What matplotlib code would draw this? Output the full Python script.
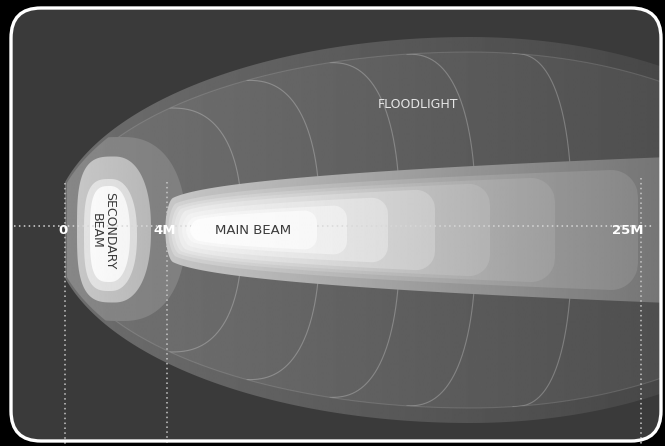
import numpy as np
import matplotlib.pyplot as plt
from matplotlib.patches import Polygon, FancyBboxPatch

W, H = 665, 446
YC = 230

# distance markers along the beam axis
marker_labels = ['0', '4M', '25M']
marker_x = [65, 167, 641]
marker_top = [183, 182, 178]

# main beam layers (outer -> core)
main_x0 = [165, 168, 171, 174, 178, 182, 186, 190]
main_x1 = [720, 638, 555, 490, 435, 388, 347, 317]
main_h = [75, 61, 53, 47, 41, 33, 25, 20]
main_rc = [30, 28, 25, 22, 20, 17, 14, 13]
main_g0 = [0.78, 0.83, 0.87, 0.90, 0.93, 0.95, 0.97, 0.99]
main_g1 = [0.46, 0.53, 0.62, 0.70, 0.79, 0.87, 0.93, 0.97]

# secondary beam layers (outer -> core)
sec_x0 = [60, 77, 84, 90]
sec_x1 = [186, 151, 137, 130]
sec_yc = [229, 229.5, 235, 234]
sec_h = [92, 73, 56, 48]
sec_g0 = [0.53, 0.78, 0.89, 0.98]
sec_g1 = [0.50, 0.72, 0.86, 0.96]

# floodlight distance arcs
arc_x0 = [170, 247, 330, 407, 513]
arc_x1 = [242, 320, 400, 476, 572]


def flood_half(xs, b, al, ar, xc=470):
    a = np.where(xs < xc, al, ar)
    return b * np.sqrt(np.clip(1 - ((xs - xc) / a) ** 2, 0, 1))


def beam_half(xs, x0, x1, h, rc, tip=0.3, p=0.4, rl=8):
    s = np.clip((xs - x0) / (x1 - x0), 0, 1)
    hh = h * (tip + (1 - tip) * s ** p)
    nose = np.clip((x0 + rl - xs) / rl, 0, 1)
    hh = hh * np.sqrt(1 - nose ** 2)
    t = np.clip((xs - (x1 - rc)) / rc, 0, 1)
    return hh - rc + rc * np.sqrt(1 - t ** 2)


def outline(xs, hh, yc):
    return np.concatenate([np.column_stack([xs, yc - hh]),
                           np.column_stack([xs[::-1], (yc + hh)[::-1]])])


def blob(x0, x1, yc, h, nl=3.2, nr=2.3):
    xc, a = (x0 + x1) / 2, (x1 - x0) / 2
    th = np.linspace(0, 2 * np.pi, 400)
    c, s = np.cos(th), np.sin(th)
    n = np.where(c < 0, nl, nr)
    x = xc + a * np.sign(c) * np.abs(c) ** (2 / n)
    y = yc + h * np.sign(s) * np.abs(s) ** (2 / n)
    # keep it inside the floodlight outline
    x = np.maximum(x, 67)
    hf = flood_half(x, 193, 418, 360) - 4
    y = np.clip(y, YC - hf, YC + hf)
    return np.column_stack([x, y])


def grad_fill(ax, pts, g0, g1, x0, x1, z):
    poly = Polygon(pts, closed=True, fc='none', ec='none', zorder=z)
    ax.add_patch(poly)
    img = np.linspace(g0, g1, 256)[None, :]
    im = ax.imshow(img, cmap='gray', vmin=0, vmax=1, extent=[x0, x1, H, 0],
                   aspect='auto', interpolation='bilinear', zorder=z)
    im.set_clip_path(poly)
    return poly


fig = plt.figure(figsize=(6.65, 4.46), dpi=100, facecolor='black')
ax = fig.add_axes([0, 0, 1, 1])
ax.set_facecolor('black')
ax.axis('off')

panel = FancyBboxPatch((11, 8), 650, 433, boxstyle='round,pad=0,rounding_size=30',
                       fc='#3a3a3a', ec='none', zorder=0)
ax.add_patch(panel)

# floodlight
xs = np.linspace(65, 660, 500)
outer = outline(xs, flood_half(xs, 193, 418, 360), YC)
grad_fill(ax, outer, 0.43, 0.28, 65, 660, 1)
xs_in = np.linspace(67, 660, 500)
hin = flood_half(xs_in, 178, 412, 345)
inner = outline(xs_in, hin, YC)
inner_poly = grad_fill(ax, inner, 0.45, 0.31, 65, 660, 2)
ax.plot(xs_in, YC - hin, color='white', alpha=0.13, lw=0.8, zorder=3)
ax.plot(xs_in, YC + hin, color='white', alpha=0.13, lw=0.8, zorder=3)

for x0, x1 in zip(arc_x0, arc_x1):
    b = flood_half(np.array([x0]), 178, 412, 345)[0]
    th = np.linspace(-np.pi / 2, np.pi / 2, 300)
    c, s = np.cos(th), np.sin(th)
    ax_ = x0 + (x1 - x0) * np.abs(c) ** 0.8
    ay_ = YC + b * np.sign(s) * np.abs(s) ** 0.8
    ln, = ax.plot(ax_, ay_, color='white', alpha=0.25, lw=0.8, zorder=3)
    ln.set_clip_path(inner_poly)

# secondary beam
for i in range(len(sec_x0)):
    pts = blob(sec_x0[i], sec_x1[i], sec_yc[i], sec_h[i])
    grad_fill(ax, pts, sec_g0[i], sec_g1[i], sec_x0[i], sec_x1[i], 4 + i)

# main beam
for i in range(len(main_x0)):
    xm = np.linspace(main_x0[i], min(main_x1[i], 660), 500)
    hh = beam_half(xm, main_x0[i], main_x1[i], main_h[i], main_rc[i])
    pts = outline(xm, hh, YC)
    grad_fill(ax, pts, main_g0[i], main_g1[i], main_x0[i], min(main_x1[i], 660), 8 + i)
    if i == 6:
        ax.plot([14, 652], [226, 226], ls=(0, (1, 2.2)), color='#d8d8d8', lw=1.1, zorder=14.5)

# distance markers
for lab, x, top in zip(marker_labels, marker_x, marker_top):
    ax.plot([x, x], [top, 446], ls=(0, (1, 2.2)), color='#c8c8c8', lw=1.1, zorder=20)
    ax.text(x - 2 if lab != '25M' else x - 13, 231, lab, color='white', fontsize=9.5,
            fontweight='bold', ha='center', va='center', zorder=22)

ax.text(418, 104, 'FLOODLIGHT', color='#e6e6e6', fontsize=9, ha='center', va='center', zorder=22)
ax.text(253, 230, 'MAIN BEAM', color='#3a3a3a', fontsize=9.5, ha='center', va='center', zorder=22)
ax.text(103, 231, 'SECONDARY\nBEAM', color='#3a3a3a', fontsize=9, rotation=-90,
        ha='center', va='center', multialignment='center', linespacing=1.1, zorder=22)

border = FancyBboxPatch((11, 8), 650, 433, boxstyle='round,pad=0,rounding_size=30',
                        fc='none', ec='white', lw=2.4, zorder=30)
ax.add_patch(border)

ax.set_xlim(0, W)
ax.set_ylim(H, 0)
fig.savefig('out.png', dpi=100, facecolor='black')
